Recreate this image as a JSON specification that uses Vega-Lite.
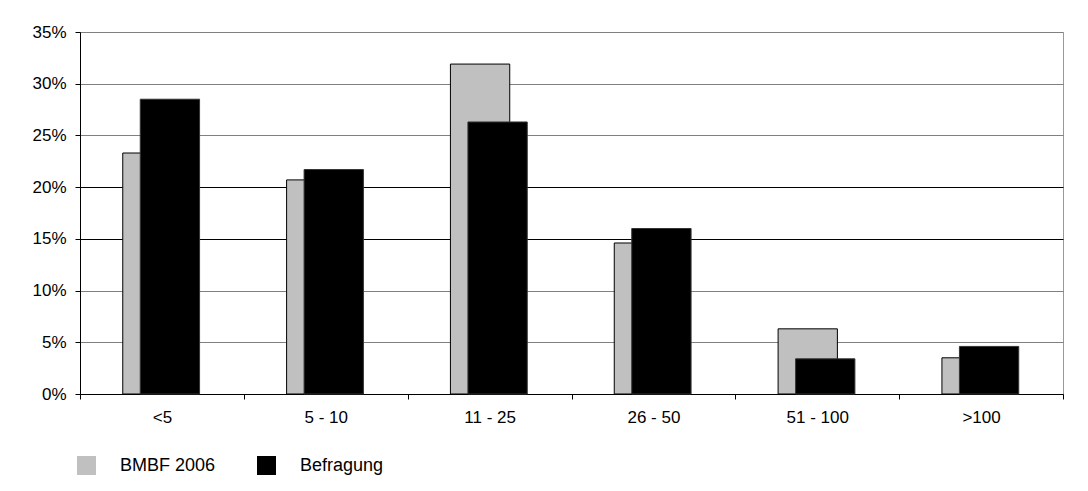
{
  "$schema": "https://vega.github.io/schema/vega-lite/v6.json",
  "autosize": {"type": "none"},
  "width": 983,
  "height": 362,
  "padding": {"left": 80, "top": 32, "right": 25, "bottom": 97},
  "background": "white",
  "config": {
    "font": "Liberation Sans",
    "view": {"stroke": "#999999", "strokeWidth": 1}
  },
  "data": {
    "values": [
      {"klasse": "<5", "quelle": "BMBF 2006", "anteil": 0.233},
      {"klasse": "<5", "quelle": "Befragung", "anteil": 0.285},
      {"klasse": "5 - 10", "quelle": "BMBF 2006", "anteil": 0.207},
      {"klasse": "5 - 10", "quelle": "Befragung", "anteil": 0.217},
      {"klasse": "11 - 25", "quelle": "BMBF 2006", "anteil": 0.319},
      {"klasse": "11 - 25", "quelle": "Befragung", "anteil": 0.263},
      {"klasse": "26 - 50", "quelle": "BMBF 2006", "anteil": 0.146},
      {"klasse": "26 - 50", "quelle": "Befragung", "anteil": 0.160},
      {"klasse": "51 - 100", "quelle": "BMBF 2006", "anteil": 0.063},
      {"klasse": "51 - 100", "quelle": "Befragung", "anteil": 0.034},
      {"klasse": ">100", "quelle": "BMBF 2006", "anteil": 0.035},
      {"klasse": ">100", "quelle": "Befragung", "anteil": 0.046}
    ]
  },
  "encoding": {
    "x": {
      "field": "klasse",
      "type": "nominal",
      "sort": null,
      "scale": {"paddingInner": 0, "paddingOuter": 0},
      "axis": {
        "title": null,
        "labelAngle": 0,
        "labelFontSize": 17,
        "labelColor": "black",
        "labelPadding": 10,
        "tickBand": "extent",
        "tickSize": 5,
        "tickColor": "black",
        "domainColor": "black",
        "grid": false
      }
    },
    "y": {
      "field": "anteil",
      "type": "quantitative",
      "scale": {"domain": [0, 0.35], "nice": false},
      "axis": {
        "title": null,
        "values": [0, 0.05, 0.1, 0.15, 0.2, 0.25, 0.3, 0.35],
        "format": ".0%",
        "labelFontSize": 17,
        "labelColor": "black",
        "labelPadding": 9,
        "tickSize": 5,
        "tickColor": "black",
        "domainColor": "black",
        "grid": true,
        "gridColor": {
          "condition": {"test": "datum.value === 0.15 || datum.value === 0.2", "value": "black"},
          "value": "#808080"
        },
        "gridOpacity": 1
      }
    },
    "color": {
      "field": "quelle",
      "type": "nominal",
      "scale": {"domain": ["BMBF 2006", "Befragung"], "range": ["#c0c0c0", "#000000"]},
      "legend": {
        "title": null,
        "orient": "none",
        "direction": "horizontal",
        "legendX": -3,
        "legendY": 424,
        "padding": 0,
        "symbolType": "square",
        "symbolSize": 361,
        "symbolStrokeWidth": 0,
        "symbolOpacity": 1,
        "labelFontSize": 18,
        "labelColor": "black",
        "labelOffset": 24,
        "columnPadding": 41
      }
    }
  },
  "layer": [
    {
      "transform": [{"filter": "datum.quelle === 'BMBF 2006'"}],
      "mark": {"type": "bar", "width": {"band": 0.362}, "xOffset": -9.5, "stroke": "black", "strokeWidth": 1, "opacity": 1}
    },
    {
      "transform": [{"filter": "datum.quelle === 'Befragung'"}],
      "mark": {"type": "bar", "width": {"band": 0.362}, "xOffset": 8, "stroke": "#333333", "strokeWidth": 1, "opacity": 1}
    }
  ]
}
